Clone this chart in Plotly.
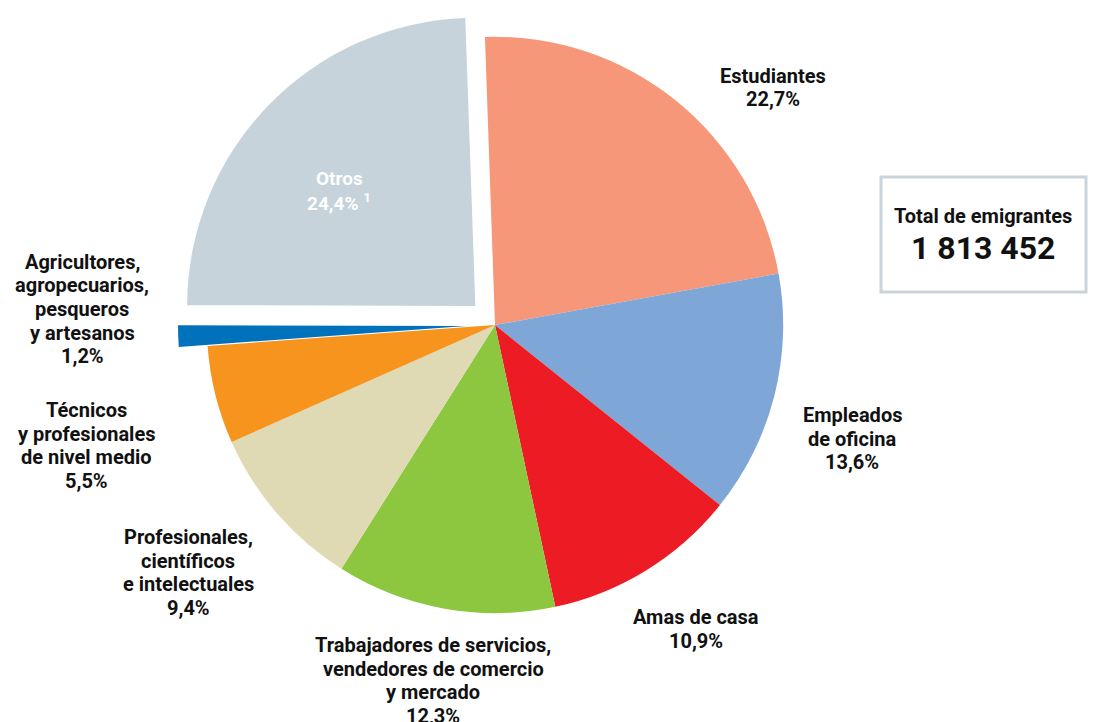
import plotly.graph_objects as go

W, H = 1096, 722
OFF = 8  # page body margin of the browser

categories = ["Estudiantes", "Empleados de oficina", "Amas de casa",
              "Trabajadores de servicios, vendedores de comercio y mercado",
              "Profesionales, científicos e intelectuales",
              "Técnicos y profesionales de nivel medio",
              "Agricultores, agropecuarios, pesqueros y artesanos", "Otros"]
values = [22.7, 13.6, 10.9, 12.3, 9.4, 5.5, 1.2, 24.4]
label_lines = [["Estudiantes", "22,7%"],
               ["Empleados", "de oficina", "13,6%"],
               ["Amas de casa", "10,9%"],
               ["Trabajadores de servicios,", "vendedores de comercio", "y mercado", "12,3%"],
               ["Profesionales,", "científicos", "e intelectuales", "9,4%"],
               ["Técnicos", "y profesionales", "de nivel medio", "5,5%"],
               ["Agricultores,", "agropecuarios,", "pesqueros", "y artesanos", "1,2%"],
               ["Otros", "24,4% <sup>1</sup>"]]
colors = ["#F7977A", "#7EA7D8", "#ED1C24", "#8DC63F", "#DFD9B4", "#F7941E", "#0072BC", "#C6D3DB"]
pulls = [0, 0, 0, 0, 0, 0, 0.1, 0.095]
total_title = "Total de emigrantes"
total_value = "1 813 452"

# label anchor (x centre, y of first line) in screen pixels
label_pos = [(773, 76), (852, 415), (696, 617), (433, 645), (188, 537), (86, 410), (82, 262), (339, 179)]
LINE = 23.5


def px(sx):
    return (sx - OFF) / W


def py(sy):
    return 1 - (sy - OFF) / H


cx, cy = 495 - OFF, 325 - OFF
half = cy
fig = go.Figure(go.Pie(
    labels=categories, values=values, sort=False, direction="clockwise",
    rotation=-2, pull=pulls, textinfo="none", hoverinfo="label+percent",
    marker=dict(colors=colors, line=dict(width=0)),
    domain=dict(x=[(cx - half) / W, (cx + half) / W], y=[1 - 2 * half / H, 1]),
    showlegend=False,
))

font_family = "Roboto, 'DejaVu Sans', sans-serif"
for i, (lines, (sx, sy)) in enumerate(zip(label_lines, label_pos)):
    for j, line in enumerate(lines):
        fig.add_annotation(
            x=px(sx), y=py(sy + j * LINE), xref="paper", yref="paper", text=line,
            showarrow=False, xanchor="center", yanchor="middle", align="center",
            font=dict(family=font_family, size=20 if i != 7 else 19,
                      color="white" if i == 7 else "#111111", weight="bold"),
        )

# total box
fig.add_shape(type="rect", xref="paper", yref="paper",
              x0=px(881), x1=px(1086), y0=py(292), y1=py(177),
              line=dict(color="#C9D5DD", width=3), fillcolor="white")
fig.add_annotation(x=px(983), y=py(216), xref="paper", yref="paper", text=total_title,
                   showarrow=False, xanchor="center", yanchor="middle",
                   font=dict(family=font_family, size=20, color="#111111", weight="bold"))
fig.add_annotation(x=px(983), y=py(248), xref="paper", yref="paper", text=total_value,
                   showarrow=False, xanchor="center", yanchor="middle",
                   font=dict(family=font_family, size=32, color="#111111", weight="bold"))

fig.update_layout(width=W, height=H, margin=dict(l=0, r=0, t=0, b=0),
                  paper_bgcolor="white", plot_bgcolor="white")
fig.write_html("out.html")
